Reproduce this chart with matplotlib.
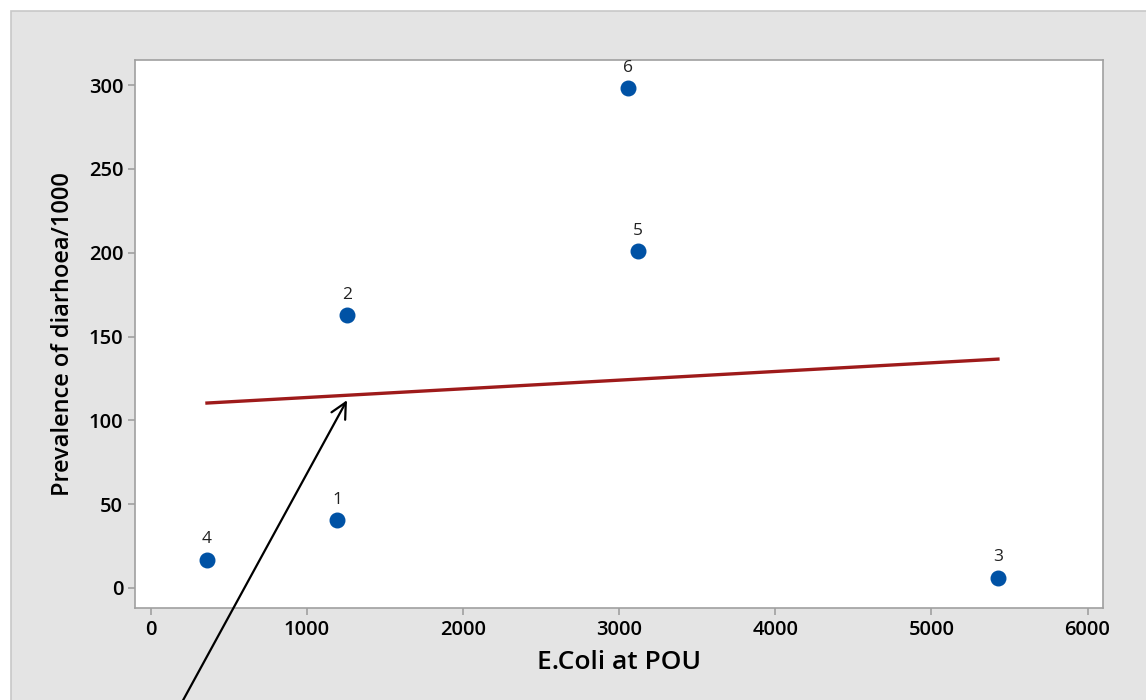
import numpy as np
import matplotlib.pyplot as plt
from matplotlib.patches import Rectangle

plt.rcParams['font.family'] = ['Open Sans', 'DejaVu Sans']

# data
point_ids = ["1", "2", "3", "4", "5", "6"]
ecoli_pou = [1192, 1256, 5426, 359, 3120, 3056]
prevalence = [40.5, 162.8, 6.0, 16.7, 201.0, 298.2]
x_ticks = [0, 1000, 2000, 3000, 4000, 5000, 6000]
y_ticks = [0, 50, 100, 150, 200, 250, 300]

fig = plt.figure(figsize=(11.46, 7.0), dpi=100, facecolor="white")
# gray outer panel, kept behind the axes
fig.patches.append(Rectangle((11 / 1146, -0.01), 1.0, (700 - 11) / 700 + 0.01,
                             transform=fig.transFigure, facecolor="#e4e4e4",
                             edgecolor="#c8c8c8", linewidth=1.2, zorder=-10))

ax = fig.add_axes([135 / 1146, 92 / 700, 968 / 1146, 548 / 700])
ax.set_facecolor("white")

ax.scatter(ecoli_pou, prevalence, s=110, color="#0052a5", zorder=3)
for pid, xv, yv in zip(point_ids, ecoli_pou, prevalence):
    ax.annotate(pid, (xv, yv), xytext=(0, 9), textcoords="offset points",
                ha="center", va="bottom", fontsize=12.5, color="#222222")

# least squares fit line
slope, intercept = np.polyfit(ecoli_pou, prevalence, 1)
xs = np.array([min(ecoli_pou), max(ecoli_pou)])
ax.plot(xs, intercept + slope * xs, color="#9e1a1a", linewidth=2.4, zorder=2)

# arrow pointing at the fit line
ax.annotate("", xy=(1256, 112), xycoords="data",
            xytext=(181, -4), textcoords="figure pixels",
            arrowprops=dict(arrowstyle="->", color="black", lw=1.6,
                            mutation_scale=28, shrinkA=0, shrinkB=0),
            annotation_clip=False)

ax.set_xlim(-102, 6099)
ax.set_ylim(-12, 315)
ax.set_xticks(x_ticks)
ax.set_yticks(y_ticks)
ax.tick_params(axis="both", labelsize=14.5, color="#a0a0a0", length=5, width=1.2)
for lab in ax.get_xticklabels() + ax.get_yticklabels():
    lab.set_fontweight("semibold")
for sp in ax.spines.values():
    sp.set_color("#a0a0a0")
    sp.set_linewidth(1.2)

ax.set_xlabel("E.Coli at POU", fontsize=19, fontweight="semibold", labelpad=7)
ax.set_ylabel("Prevalence of diarhoea/1000", fontsize=17, fontweight="semibold",
              labelpad=10)

fig.savefig("out.png", dpi=100)
